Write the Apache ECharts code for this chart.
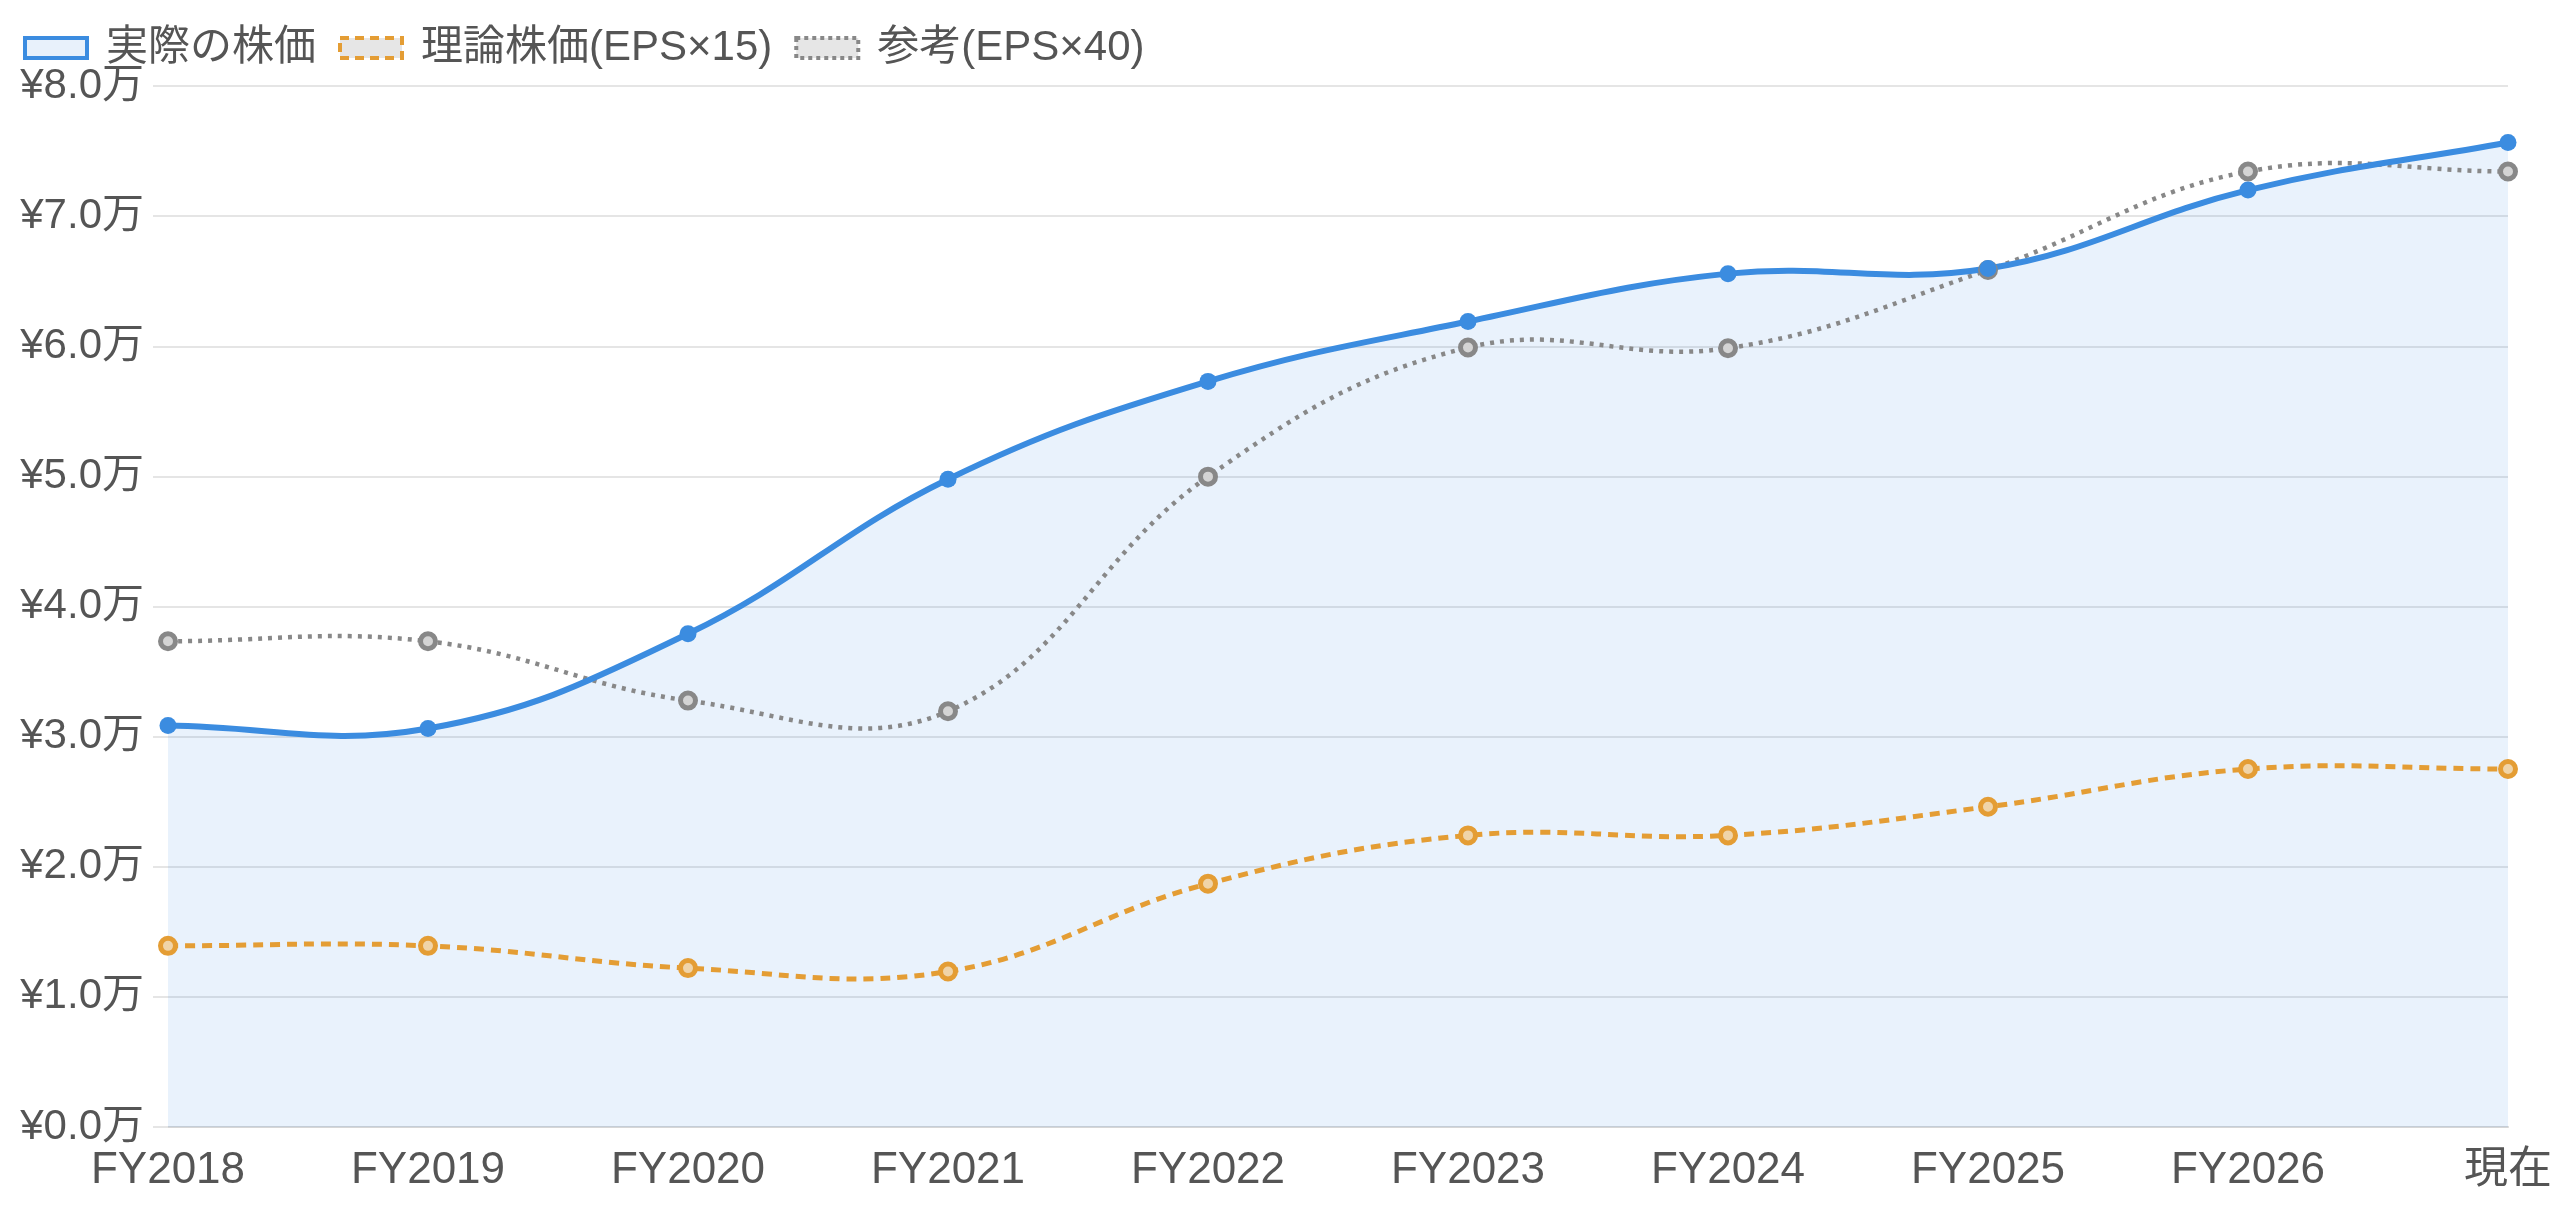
<!DOCTYPE html>
<html>
<head>
<meta charset="utf-8">
<script src="https://cdn.jsdelivr.net/npm/echarts@6/dist/echarts.min.js"></script>
<style>
html,body{margin:0;padding:0;background:#fff;}
#chart{width:2560px;height:1209px;}
</style>
</head>
<body>
<div id="chart"></div>
<script>
const categories = ['FY2018','FY2019','FY2020','FY2021','FY2022','FY2023','FY2024','FY2025','FY2026','現在'];
const actualPrice = [30850, 30620, 37900, 49780, 57300, 61900, 65580, 65970, 72000, 75660];
const theoryPrice = [13920, 13920, 12210, 11950, 18700, 22410, 22410, 24610, 27510, 27510];
const refPrice    = [37330, 37330, 32770, 31950, 49980, 59900, 59850, 65860, 73430, 73430];
const seriesNames = ['実際の株価', '理論株価(EPS×15)', '参考(EPS×40)'];
const yMin = 0, yMax = 80000, yStep = 10000;

const FONT = '"Liberation Sans", "Noto Sans CJK JP", sans-serif';
const BLUE = '#3b8ce0', ORANGE = '#e49d34', GRAY = '#888888';
const TENSION = 0.4;

// Curve through the data points (Chart.js-style cardinal spline), positioned via the axes.
function curveSeries(values, z, style, area) {
  return {
    type: 'custom', silent: true, z: z, clip: false,
    data: [[0, values[0]]],
    renderItem: function (params, api) {
      const pts = values.map((v, i) => api.coord([i, v]));
      const n = pts.length;
      const cp = pts.map((cur, i) => {
        const prev = i > 0 ? pts[i - 1] : cur;
        const next = i < n - 1 ? pts[i + 1] : cur;
        const d01 = Math.hypot(cur[0] - prev[0], cur[1] - prev[1]);
        const d12 = Math.hypot(next[0] - cur[0], next[1] - cur[1]);
        let s01 = d01 / (d01 + d12), s12 = d12 / (d01 + d12);
        if (isNaN(s01)) s01 = 0;
        if (isNaN(s12)) s12 = 0;
        const fa = TENSION * s01, fb = TENSION * s12;
        return {
          px: cur[0] - fa * (next[0] - prev[0]), py: cur[1] - fa * (next[1] - prev[1]),
          nx: cur[0] + fb * (next[0] - prev[0]), ny: cur[1] + fb * (next[1] - prev[1])
        };
      });
      let d = 'M' + pts[0][0] + ',' + pts[0][1];
      for (let i = 0; i < n - 1; i++) {
        d += ' C' + cp[i].nx + ',' + cp[i].ny + ' ' + cp[i + 1].px + ',' + cp[i + 1].py + ' ' + pts[i + 1][0] + ',' + pts[i + 1][1];
      }
      if (area) {
        const base = api.coord([0, yMin])[1];
        d += ' L' + pts[n - 1][0] + ',' + base + ' L' + pts[0][0] + ',' + base + ' Z';
      }
      return { type: 'path', shape: { pathData: d }, style: style };
    }
  };
}

function markerSeries(name, values, z, size, itemStyle) {
  return {
    name: name, type: 'line', data: values, z: z,
    symbol: 'circle', symbolSize: size, showAllSymbol: true,
    lineStyle: { width: 0, opacity: 0 },
    itemStyle: itemStyle
  };
}

const chart = echarts.init(document.getElementById('chart'));
chart.setOption({
  animation: false,
  textStyle: { fontFamily: FONT },
  legend: {
    left: 18, top: 22, icon: 'rect', itemWidth: 62, itemHeight: 20, itemGap: 22,
    formatter: name => '{t|' + name + '}',
    textStyle: { fontSize: 42, color: '#555', fontFamily: FONT,
      rich: { t: { fontSize: 42, color: '#555', fontFamily: FONT, padding: [0, 0, 0, 14] } } },
    data: [
      { name: seriesNames[0], itemStyle: { color: '#e8f1fb', borderColor: BLUE, borderWidth: 4 } },
      { name: seriesNames[1], itemStyle: { color: '#e6e6e6', borderColor: ORANGE, borderWidth: 4, borderType: [9, 6] } },
      { name: seriesNames[2], itemStyle: { color: '#e6e6e6', borderColor: GRAY, borderWidth: 4, borderType: [4, 4] } }
    ]
  },
  grid: { left: 168, right: 52, top: 86, bottom: 82, containLabel: false, outerBoundsMode: 'none' },
  xAxis: {
    type: 'category', data: categories, boundaryGap: false,
    axisLine: { show: true, lineStyle: { color: '#d6d6d6', width: 2 } },
    axisTick: { show: false },
    splitLine: { show: false },
    axisLabel: { fontSize: 44, color: '#555', margin: 22, fontFamily: FONT }
  },
  yAxis: {
    type: 'value', min: yMin, max: yMax, interval: yStep,
    axisLine: { show: false },
    axisTick: { show: true, length: 15, lineStyle: { color: '#e5e5e5', width: 2 } },
    splitLine: { show: true, lineStyle: { color: '#e5e5e5', width: 2 } },
    axisLabel: { fontSize: 42, color: '#555', margin: 24, fontFamily: FONT,
      formatter: v => '¥' + (v / 10000).toFixed(1) + '万' }
  },
  series: [
    curveSeries(actualPrice, 1, { fill: 'rgba(59,140,224,0.11)', stroke: null, lineWidth: 0 }, true),
    curveSeries(refPrice, 2, { fill: null, stroke: GRAY, lineWidth: 4.5, lineDash: [4, 6] }, false),
    curveSeries(theoryPrice, 3, { fill: null, stroke: ORANGE, lineWidth: 5, lineDash: [10, 7] }, false),
    curveSeries(actualPrice, 4, { fill: null, stroke: BLUE, lineWidth: 6 }, false),
    markerSeries(seriesNames[2], refPrice, 5, 15, { color: '#d4d4d4', borderColor: GRAY, borderWidth: 5 }),
    markerSeries(seriesNames[1], theoryPrice, 6, 15, { color: '#f0d4a8', borderColor: ORANGE, borderWidth: 5 }),
    markerSeries(seriesNames[0], actualPrice, 7, 17, { color: BLUE, borderColor: BLUE, borderWidth: 0 })
  ]
});
</script>
</body>
</html>
